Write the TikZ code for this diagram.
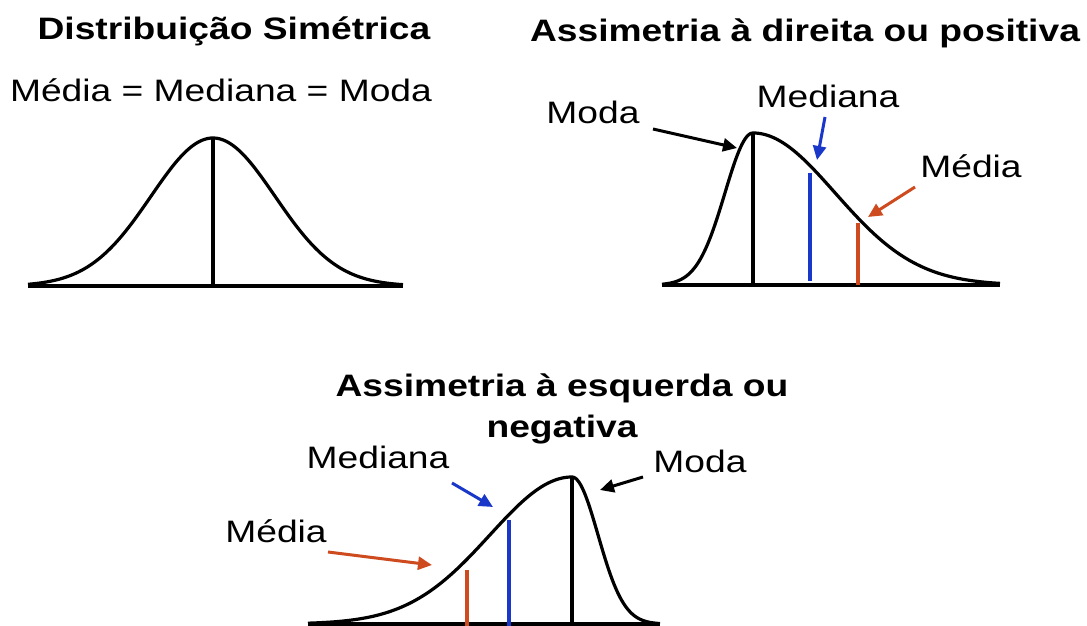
\documentclass[tikz,border=0pt]{standalone}
\usepackage{fontspec}
\setmainfont{Liberation Sans}[FakeStretch=1.2]
\usetikzlibrary{arrows.meta}
\definecolor{medblue}{RGB}{25,55,200}
\definecolor{meanred}{RGB}{205,75,30}

\begin{document}
\begin{tikzpicture}[x=1pt, y=-1pt, >={Triangle[length=14pt,width=13pt]}]
    \tikzstyle{lbl}=[font=\fontsize{31}{37}\selectfont, inner sep=0pt, anchor=base]
    \tikzstyle{ttl}=[lbl, font=\fontsize{31}{41}\selectfont\bfseries]
    \tikzstyle{curve}=[line width=3.2pt, line join=round]
    \tikzstyle{vline}=[line width=3.4pt]
    \tikzstyle{pointer}=[->, line width=3pt]

    \useasboundingbox (0,0) rectangle (1087,626);

    % draw text

    \node [ttl] (title-sym) at (234,40) {Distribuição Simétrica};
    \node [lbl] (eq-sym) at (221,102) {Média = Mediana = Moda};

    \node [ttl] (title-pos) at (805,42) {Assimetria à direita ou positiva};
    \node [lbl] (moda-pos) at (593,123) {Moda};
    \node [lbl] (mediana-pos) at (828,107) {Mediana};
    \node [lbl] (media-pos) at (971,177) {Média};

    \node [ttl, align=center, anchor=north] (title-neg) at (562,374) {Assimetria à esquerda ou\\negativa};
    \node [lbl] (mediana-neg) at (378,468) {Mediana};
    \node [lbl] (moda-neg) at (700,472) {Moda};
    \node [lbl] (media-neg) at (276,542) {Média};

    % draw curves

    \draw [curve] plot [domain=28:403, samples=120, smooth] (\x,{286-148*exp(-0.5*((\x-213)/62)^2)});
    \draw [curve] (28,286) -- (403,286);

    \draw [curve] plot [domain=662:753, samples=60, smooth] (\x,{285-152*exp(-0.5*((\x-753)/28)^2)})
      -- plot [domain=753:1000, samples=120, smooth] (\x,{285-152*exp(-0.5*((\x-753)/82)^2)});
    \draw [curve] (662,285) -- (1000,285);

    \draw [curve] plot [domain=308:572, samples=120, smooth] (\x,{624-147*exp(-0.5*((\x-572)/82)^2)})
      -- plot [domain=572:660, samples=60, smooth] (\x,{624-147*exp(-0.5*((\x-572)/26)^2)});
    \draw [curve] (308,624) -- (660,624);

    % draw lines

    \foreach \xx/\top/\bot/\col in {213/138/286/black, 753/133/285/black, 810/173/281/medblue, 858/223/285/meanred,
                                    572/477/626/black, 509/520/626/medblue, 467/570/626/meanred}
    \draw [vline, \col] (\xx,\top) -- (\xx,\bot);

    % draw arrows

    \coordinate (moda-pos-from) at (653,129);
    \coordinate (moda-pos-to) at (737,148);
    \coordinate (mediana-pos-from) at (825,117);
    \coordinate (mediana-pos-to) at (817,160);
    \coordinate (media-pos-from) at (915,187);
    \coordinate (media-pos-to) at (868,217);

    \coordinate (mediana-neg-from) at (452,483);
    \coordinate (mediana-neg-to) at (493,507);
    \coordinate (moda-neg-from) at (643,477);
    \coordinate (moda-neg-to) at (600,490);
    \coordinate (media-neg-from) at (328,552);
    \coordinate (media-neg-to) at (432,565);

    \draw [pointer] (moda-pos-from) -- (moda-pos-to);
    \draw [pointer, medblue] (mediana-pos-from) -- (mediana-pos-to);
    \draw [pointer, meanred] (media-pos-from) -- (media-pos-to);

    \draw [pointer, medblue] (mediana-neg-from) -- (mediana-neg-to);
    \draw [pointer] (moda-neg-from) -- (moda-neg-to);
    \draw [pointer, meanred] (media-neg-from) -- (media-neg-to);

\end{tikzpicture}
\end{document}
